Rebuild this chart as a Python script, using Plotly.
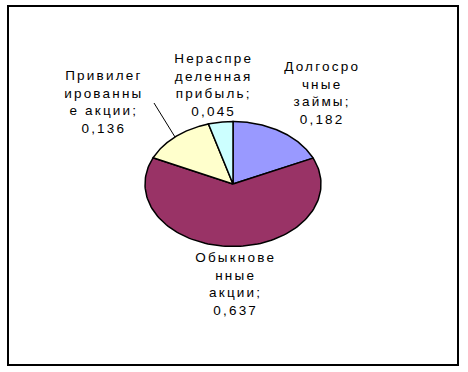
import numpy as np
import plotly.graph_objects as go

# ---- data ----
categories = ["Долгосрочные займы", "Обыкновенные акции",
              "Привилегированные акции", "Нераспределенная прибыль"]
label_lines = ["Долгосро<br>чные<br>займы;", "Обыкнове<br>нные<br>акции;",
               "Привилег<br>ированны<br>е акции;", "Нераспре<br>деленная<br>прибыль;"]
values = [0.182, 0.637, 0.136, 0.045]

# ---- style / layout ----
colors = ["#9999FF", "#993366", "#FFFFCC", "#CCFFFF"]
W, H = 468, 372
cx, cy, rx, ry = 233, 184, 88, 62.5
label_pos = [(322, 93), (235, 284), (104, 102), (213, 85)]

fig = go.Figure()
total = sum(values)
cum = 0.0
for i, v in enumerate(values):
    t = np.linspace(cum / total, (cum + v) / total, 120) * 2 * np.pi
    xs = np.concatenate([[cx], cx + rx * np.sin(t), [cx]])
    ys = np.concatenate([[cy], cy - ry * np.cos(t), [cy]])
    fig.add_trace(go.Scatter(x=xs, y=ys, mode="lines", fill="toself",
                             fillcolor=colors[i], line=dict(color="black", width=1.5),
                             hoverinfo="text", text=categories[i], showlegend=False))
    cum += v

for i, v in enumerate(values):
    txt = label_lines[i] + "<br>" + f"{v:.3f}".replace(".", ",")
    x, y = label_pos[i]
    fig.add_annotation(x=x, y=y, text=txt, showarrow=False, xref="x", yref="y",
                       font=dict(family="Liberation Sans, Arial", size=13.5, color="black"),
                       align="center", xanchor="center", yanchor="middle")

# leader line for small label
fig.add_shape(type="line", x0=154, y0=103, x1=175, y1=137, xref="x", yref="y",
              line=dict(color="black", width=1))
# chart border
fig.add_shape(type="rect", x0=8, y0=6, x1=458, y1=365, xref="x", yref="y",
              line=dict(color="black", width=2))

fig.update_xaxes(range=[0, W], visible=False, fixedrange=True)
fig.update_yaxes(range=[H, 0], visible=False, fixedrange=True)
fig.update_layout(width=W, height=H, margin=dict(l=0, r=0, t=0, b=0),
                  paper_bgcolor="white", plot_bgcolor="white")

post = """
var s=document.createElement('style');
s.innerHTML='html,body{margin:0;padding:0;overflow:hidden;} .annotation-text{letter-spacing:2.2px;}';
document.head.appendChild(s);
"""
fig.write_html("out.html", post_script=post, config={"displayModeBar": False})
